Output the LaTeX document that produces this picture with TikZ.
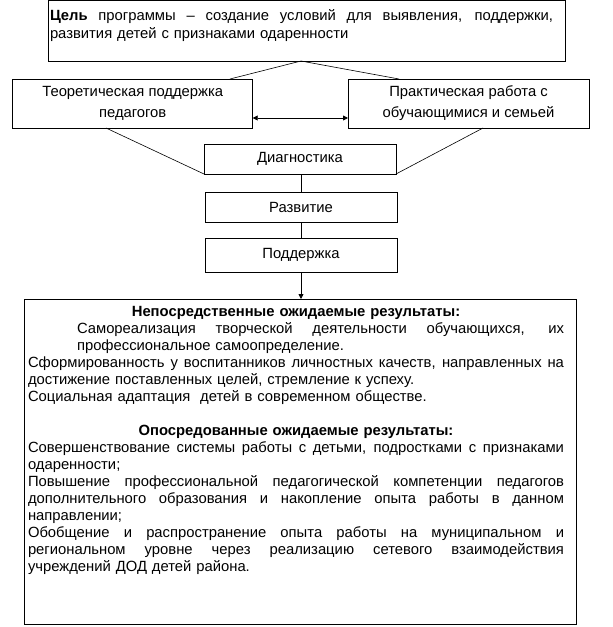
\documentclass[tikz,border=0pt]{standalone}
\usepackage{fontspec}
\setmainfont{Liberation Sans}
\usetikzlibrary{arrows.meta}
\newcommand\jline[2]{\makebox[#1][s]{\spaceskip=.27em plus 1fill\relax #2}}
\begin{document}
\begin{tikzpicture}[x=1pt,y=-1pt,
  box/.style={draw, line width=0.9pt, inner sep=0pt, outer sep=0pt, align=center,
    font=\fontsize{14.8}{21}\selectfont},
  textblock/.style={inner sep=0pt, outer sep=0pt, anchor=base west, align=left,
    font=\fontsize{14.8}{17}\selectfont},
  link/.style={line width=0.6pt},
  tip/.style={line width=0.8pt, -{Triangle[length=5pt,width=5pt]}},
  both/.style={line width=0.8pt, {Triangle[length=5pt,width=5pt]}-{Triangle[length=5pt,width=5pt]}}]
\useasboundingbox (0,0) rectangle (613,627);
% boxes
\node[box, minimum width=517pt, minimum height=60.5pt] (goal) at (306.5,30.75) {};
\node[textblock, text width=503pt, font=\fontsize{14.8}{18}\selectfont] (goaltext) at (50,20.5)
  {\jline{503pt}{\textbf{Цель} программы – создание условий для выявления, поддержки,}\\
   развития детей с признаками одаренности};
\node[box, minimum width=240pt, minimum height=49pt] (theory) at (132.7,103.5)
  {Теоретическая поддержка\\педагогов};
\node[box, minimum width=241pt, minimum height=49pt] (practice) at (468.5,103.5)
  {Практическая работа с\\обучающимися и семьей};
\node[box, minimum width=192pt, minimum height=30pt] (diag) at (300,159) {Диагностика};
\node[box, minimum width=192pt, minimum height=30pt] (razv) at (301,207) {Развитие};
\node[box, minimum width=192pt, minimum height=34pt] (podd) at (301,255) {Поддержка};
\node[box, minimum width=552pt, minimum height=325pt] (res) at (300,461.5) {};
\node[textblock, text width=536pt] (restext) at (28,316)
  {\makebox[536pt][c]{\textbf{Непосредственные ожидаемые результаты:}}\\
   \hspace*{49pt}\jline{487pt}{Самореализация творческой деятельности обучающихся, их}\\
   \hspace*{49pt}профессиональное самоопределение.\\
   \jline{536pt}{Сформированность у воспитанников личностных качеств, направленных на}\\
   достижение поставленных целей, стремление к успеху.\\
   Социальная адаптация~ детей в современном обществе.\\[17pt]
   \makebox[536pt][c]{\textbf{Опосредованные ожидаемые результаты:}}\\
   \jline{536pt}{Совершенствование системы работы с детьми, подростками с признаками}\\
   одаренности;\\
   \jline{536pt}{Повышение профессиональной педагогической компетенции педагогов}\\
   \jline{536pt}{дополнительного образования и накопление опыта работы в данном}\\
   направлении;\\
   \jline{536pt}{Обобщение и распространение опыта работы на муниципальном и}\\
   \jline{536pt}{региональном уровне через реализацию сетевого взаимодействия}\\
   учреждений ДОД детей района.};
% connectors
\coordinate (apex) at (301,61);
\coordinate (arrowy) at (300,118);
\draw[link] (apex) -- ([xshift=-22.7pt]theory.north east);
\draw[link] (apex) -- ([xshift=51pt]practice.north west);
\draw[link] ([xshift=93.3pt]theory.south west) -- (diag.south west);
\draw[link] ([xshift=-106pt]practice.south east) -- (diag.south east);
\draw[both] (theory.east |- arrowy) -- (practice.west |- arrowy);
\draw[line width=0.8pt] (diag.south -| razv.north) -- (razv.north);
\draw[line width=0.8pt] (razv.south) -- (podd.north);
\draw[tip] (podd.south) -- (podd.south |- res.north);
\end{tikzpicture}
\end{document}
